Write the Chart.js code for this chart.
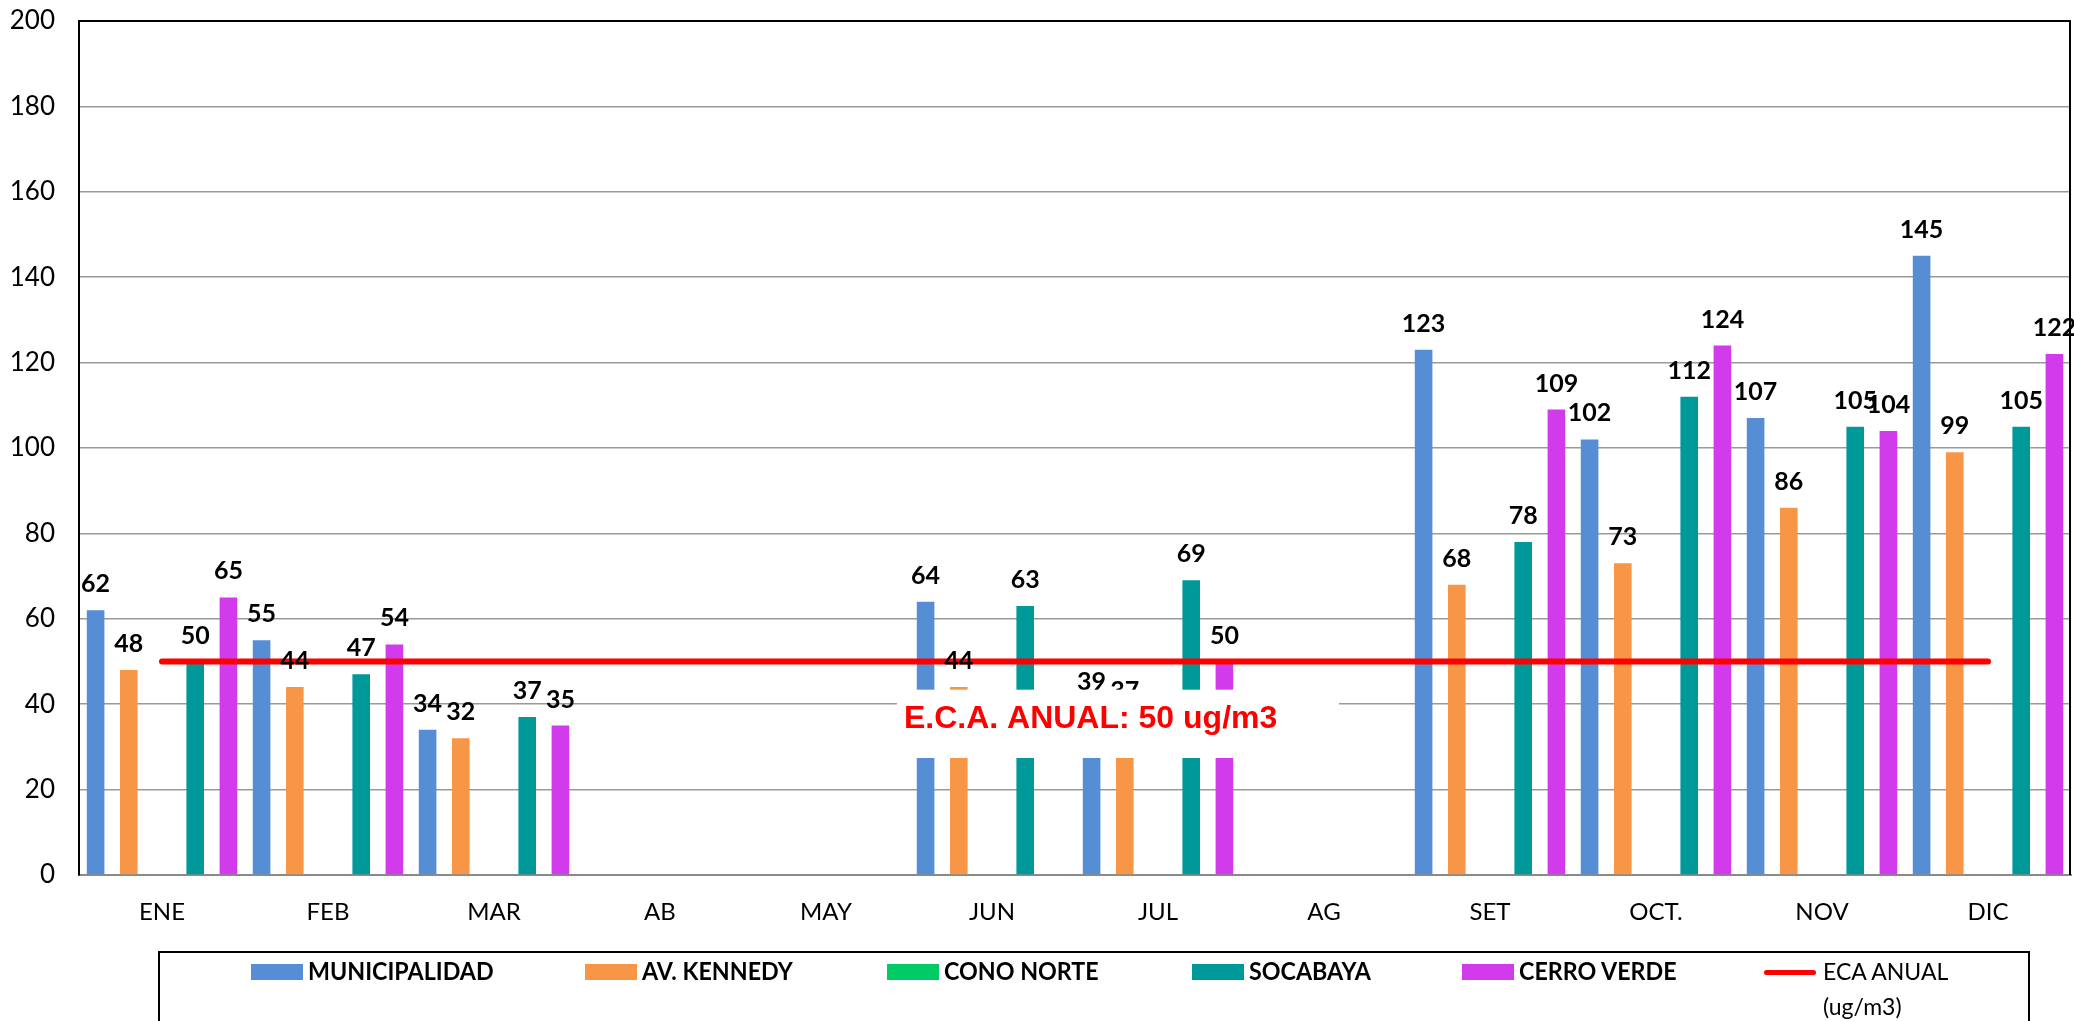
<!DOCTYPE html>
<html>
<head>
<meta charset="utf-8">
<script src="https://cdn.jsdelivr.net/npm/chart.js@4/dist/chart.umd.min.js"></script>
<style>
html,body{margin:0;padding:0;background:#fff;overflow:hidden}
#wrap{position:relative;width:2074px;height:1021px;overflow:hidden;background:#fff}
#c{position:absolute;left:0;top:0}
#legend{position:absolute;left:158px;top:951px;width:1872px;height:120px;border:2px solid #000;box-sizing:border-box}
.sw{position:absolute;top:964px;width:52px;height:16px}
.lt{position:absolute;top:958px;font:bold 25px Lato,'Open Sans',sans-serif;line-height:24px;color:#000;white-space:nowrap;transform:scaleX(0.93);transform-origin:left center}
.ln{position:absolute;top:970px;width:52px;height:5px;border-radius:3px;background:#ff0000}
.lt2{position:absolute;top:954px;font:23px Lato,'Open Sans',sans-serif;line-height:35px;color:#000;white-space:nowrap}
</style>
</head>
<body>
<div id="wrap">
<canvas id="c" width="2074" height="1021"></canvas>
<div id="legend"></div>
</div>
<script>
// ---- data ----
const MONTHS = ['ENE','FEB','MAR','AB','MAY','JUN','JUL','AG','SET','OCT.','NOV','DIC'];
const MUNICIPALIDAD = [62, 55, 34, null, null, 64, 39, null, 123, 102, 107, 145];
const AV_KENNEDY    = [48, 44, 32, null, null, 44, 37, null, 68, 73, 86, 99];
const CONO_NORTE    = [null, null, null, null, null, null, null, null, null, null, null, null];
const SOCABAYA      = [50, 47, 37, null, null, 63, 69, null, 78, 112, 105, 105];
const CERRO_VERDE   = [65, 54, 35, null, null, null, 50, null, 109, 124, 104, 122];
const ECA_ANUAL     = [50, 50, 50, 50, 50, 50, 50, 50, 50, 50, 50, 50];
const SERIES_NAMES  = ['MUNICIPALIDAD','AV. KENNEDY','CONO NORTE','SOCABAYA','CERRO VERDE'];
const ECA_NAME      = ['ECA ANUAL','(ug/m3)'];
const ECA_NOTE      = 'E.C.A. ANUAL: 50 ug/m3';
const Y_MIN = 0, Y_MAX = 200, Y_STEP = 20;

const COLORS = ['#558ED5','#F79646','#00CC66','#009999','#D23BEC'];
const ECA_COLOR = '#FF0000';

// ---- legend (HTML) ----
const legend = document.getElementById('wrap');
const swLeft = [251, 585, 887, 1192, 1462];
SERIES_NAMES.forEach((n,i)=>{
  const s=document.createElement('div'); s.className='sw'; s.style.left=swLeft[i]+'px'; s.style.background=COLORS[i]; legend.appendChild(s);
  const t=document.createElement('div'); t.className='lt'; t.style.left=(swLeft[i]+57)+'px'; t.textContent=n; legend.appendChild(t);
});
{
  const l=document.createElement('div'); l.className='ln'; l.style.left='1764px'; legend.appendChild(l);
  const t=document.createElement('div'); t.className='lt2'; t.style.left='1823px'; t.innerHTML=ECA_NAME.join('<br>'); legend.appendChild(t);
}

// ---- plugins ----
const labelsPlugin = {
  id:'barLabels',
  afterDatasetsDraw(chart){
    const ctx=chart.ctx;
    ctx.save();
    ctx.font='bold 25px Lato, "Open Sans", sans-serif';
    ctx.fillStyle='#000';
    ctx.textAlign='center';
    ctx.textBaseline='alphabetic';
    chart.data.datasets.forEach((ds,i)=>{
      if(ds.type==='line') return;
      const meta=chart.getDatasetMeta(i);
      meta.data.forEach((el,j)=>{
        const v=ds.data[j];
        if(v==null) return;
        ctx.fillText(String(v), el.x, el.y-18);
      });
    });
    ctx.restore();
  }
};
const framePlugin = {
  id:'frame',
  afterDraw(chart){
    const ctx=chart.ctx, a=chart.chartArea, ys=chart.scales.y;
    ctx.save();
    // note box
    const w=a.right-a.left;
    const bx=a.left+w*0.4106, bw=w*0.2219;
    const by=ys.getPixelForValue(43.4), bb=ys.getPixelForValue(27.4);
    ctx.fillStyle='#fff';
    ctx.fillRect(bx,by,bw,bb-by);
    ctx.font='bold 32px "Liberation Sans", Arial, sans-serif';
    ctx.fillStyle=ECA_COLOR;
    ctx.textAlign='left';
    ctx.textBaseline='alphabetic';
    ctx.fillText(ECA_NOTE, bx+7, by+38);
    // frame top/right
    ctx.strokeStyle='#000';
    ctx.lineWidth=2;
    ctx.beginPath();
    ctx.moveTo(a.left-1,a.top);
    ctx.lineTo(a.right-1,a.top);
    ctx.lineTo(a.right-1,a.bottom);
    ctx.stroke();
    ctx.restore();
  }
};

function build(){
  const barDs = [MUNICIPALIDAD, AV_KENNEDY, CONO_NORTE, SOCABAYA, CERRO_VERDE].map((d,i)=>({
    type:'bar', label:SERIES_NAMES[i], data:d, backgroundColor:COLORS[i],
    borderWidth:0, categoryPercentage:1.0, barPercentage:0.53, order:1
  }));
  new Chart(document.getElementById('c'), {
    data:{
      labels:MONTHS,
      datasets:[
        ...barDs,
        {type:'line', label:ECA_NAME.join(' '), data:ECA_ANUAL, borderColor:ECA_COLOR, borderWidth:6,
         borderCapStyle:'round', pointRadius:0, fill:false, order:0}
      ]
    },
    options:{
      responsive:false, animation:false, devicePixelRatio:1,
      layout:{padding:{top:21,right:3,bottom:0,left:0}},
      plugins:{legend:{display:false}, tooltip:{enabled:false}},
      scales:{
        x:{
          offset:true,
          grid:{display:false, drawTicks:false},
          border:{display:true, color:'#8a8a8a', width:2},
          ticks:{font:{family:'Lato', size:24}, color:'#000', padding:23, maxRotation:0, autoSkip:false},
          afterFit(s){ s.height=146; s.paddingLeft=0; s.paddingRight=0; }
        },
        y:{
          min:Y_MIN, max:Y_MAX,
          grid:{color:'#9a9a9a', lineWidth:1.5, drawTicks:false},
          border:{display:true, color:'#000', width:2},
          ticks:{stepSize:Y_STEP, font:{family:'Lato', size:26}, color:'#000', padding:24},
          afterFit(s){ s.width=79; s.paddingTop=0; s.paddingBottom=0; }
        }
      }
    },
    plugins:[labelsPlugin, framePlugin]
  });
}
Promise.all([
  document.fonts.load('20px Lato'),
  document.fonts.load('bold 20px Lato'),
  document.fonts.load('bold 31px "Liberation Sans"')
]).then(build, build);
</script>
</body>
</html>
